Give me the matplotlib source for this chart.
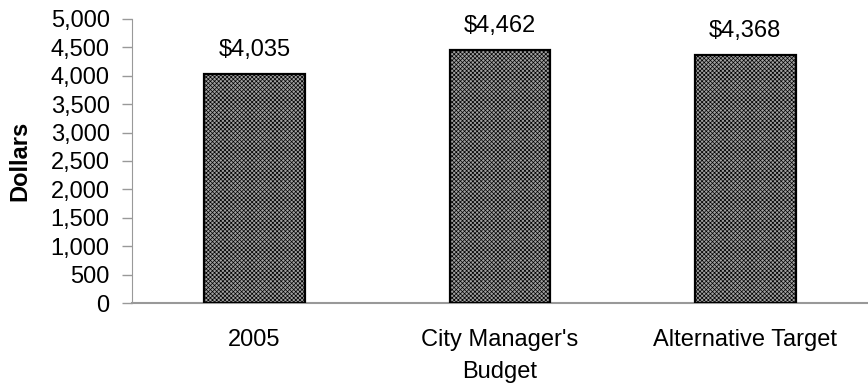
import matplotlib.pyplot as plt
from matplotlib.ticker import FuncFormatter

categories = ["2005", "City Manager's\nBudget", "Alternative Target"]
values = [4035, 4462, 4368]
yticks = list(range(0, 5001, 500))

plt.rcParams['font.family'] = ['Liberation Sans', 'DejaVu Sans']
plt.rcParams['hatch.color'] = '#666666'
plt.rcParams['hatch.linewidth'] = 0.5

fig = plt.figure(figsize=(8.68, 3.87), dpi=100)
ax = fig.add_axes([0.152, 0.217, 0.848, 0.734])

x = range(len(categories))
bars = ax.bar(x, values, width=0.41, color='#a0a0a0', edgecolor='black',
              linewidth=1.6, hatch='xxxxxxxx', zorder=3)

# value labels above each bar
for b, v in zip(bars, values):
    ax.annotate(f"${v:,}", (b.get_x() + b.get_width() / 2, v),
                xytext=(0, 9), textcoords='offset points',
                ha='center', va='bottom', fontsize=17)

ax.set_xlim(-0.5, 2.5)
ax.set_ylim(0, 5000)
ax.set_yticks(yticks)
ax.yaxis.set_major_formatter(FuncFormatter(lambda v, p: f"{int(v):,}"))
ax.set_xticks(list(x))
ax.set_xticklabels(categories, fontsize=17, linespacing=1.55)
ax.tick_params(axis='x', length=0, pad=19)
ax.tick_params(axis='y', length=7, width=1, color='#999999', labelsize=17, pad=9)

for s in ['top', 'right']:
    ax.spines[s].set_visible(False)
ax.spines['left'].set_color('#999999')
ax.spines['bottom'].set_color('#999999')
ax.spines['bottom'].set_linewidth(1.5)

ax.set_ylabel("Dollars", fontsize=17, fontweight='bold', labelpad=14)

fig.savefig("out.png", dpi=100)
